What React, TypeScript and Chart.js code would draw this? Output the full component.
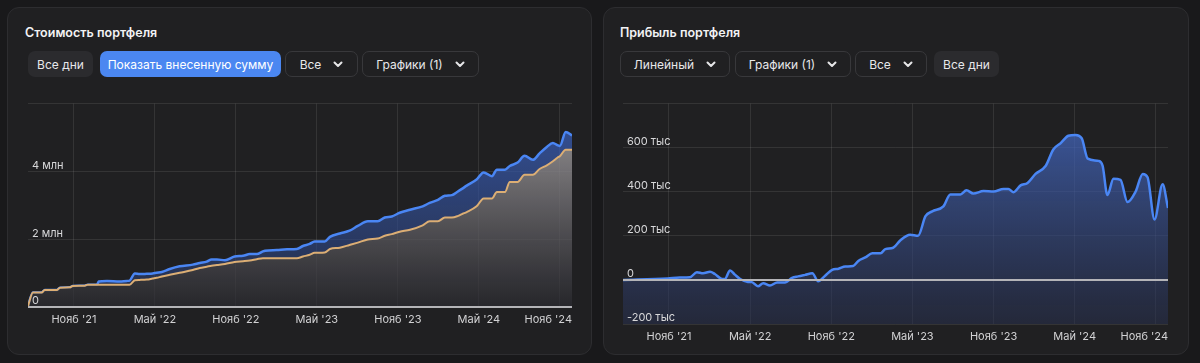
import React, { useEffect, useRef } from 'react';
import { Chart, registerables } from 'chart.js';

Chart.register(...registerables);
Chart.defaults.font.family = 'Inter, "Noto Sans", sans-serif';

// ---------- data ----------
const xTickMonths = [10, 16, 22, 28, 34, 40, 46];
const xTickLabels = ["Нояб '21", "Май '22", "Нояб '22", "Май '23", "Нояб '23", "Май '24", "Нояб '24"];

const valueTickValues = [0, 2, 4, 6];
const valueTickLabels = ['0', '2 млн', '4 млн', ''];
const profitTickValues = [-200, 0, 200, 400, 600, 800];
const profitTickLabels = ['-200 тыс', '0', '200 тыс', '400 тыс', '600 тыс', ''];

const valueDates = [
  '2021-07-19', '2021-07-31', '2021-08-20', '2021-08-27', '2021-09-23', '2021-09-30', '2021-10-23', '2021-10-29',
  '2021-11-25', '2021-12-02', '2021-12-23', '2021-12-27', '2022-01-15', '2022-02-12', '2022-02-27', '2022-03-05',
  '2022-03-17', '2022-03-28', '2022-04-13', '2022-04-26', '2022-05-05', '2022-05-17', '2022-06-04', '2022-06-26',
  '2022-07-26', '2022-08-11', '2022-08-27', '2022-09-07', '2022-09-19', '2022-10-07', '2022-10-29', '2022-11-17',
  '2022-12-02', '2022-12-18', '2023-01-01', '2023-01-06', '2023-02-02', '2023-02-23', '2023-03-17', '2023-03-31',
  '2023-04-15', '2023-04-26', '2023-05-19', '2023-05-31', '2023-06-22', '2023-07-14', '2023-08-02', '2023-08-25',
  '2023-09-16', '2023-10-02', '2023-10-18', '2023-11-05', '2023-11-28', '2023-12-27', '2024-01-12', '2024-01-31',
  '2024-02-15', '2024-03-01', '2024-03-14', '2024-03-26', '2024-04-04', '2024-04-26', '2024-05-12', '2024-05-31',
  '2024-06-11', '2024-06-29', '2024-07-10', '2024-07-28', '2024-08-13', '2024-09-01', '2024-09-16', '2024-10-02',
  '2024-10-16', '2024-10-27', '2024-11-01', '2024-11-14', '2024-11-28',
];
// contributed amount, млн
const investedMln = [
  0, 0.43, 0.43, 0.50, 0.50, 0.57, 0.58, 0.62,
  0.63, 0.66, 0.66, 0.66, 0.66, 0.66, 0.66, 0.66,
  0.79, 0.80, 0.81, 0.84, 0.86, 0.90, 0.95, 1.01,
  1.09, 1.15, 1.19, 1.22, 1.24, 1.27, 1.33, 1.35,
  1.37, 1.41, 1.44, 1.44, 1.44, 1.44, 1.44, 1.49,
  1.54, 1.60, 1.61, 1.71, 1.75, 1.83, 1.90, 1.99,
  2.02, 2.10, 2.15, 2.22, 2.28, 2.41, 2.53, 2.53,
  2.64, 2.64, 2.68, 2.75, 2.80, 2.97, 3.20, 3.20,
  3.39, 3.39, 3.69, 3.69, 3.90, 3.90, 4.07, 4.18,
  4.30, 4.41, 4.45, 4.64, 4.64,
];
// portfolio value, млн
const portfolioMln = [
  0, 0.43, 0.43, 0.50, 0.50, 0.57, 0.58, 0.62,
  0.63, 0.66, 0.66, 0.75, 0.77, 0.75, 0.77, 0.78,
  0.99, 0.97, 0.98, 0.99, 1.01, 1.03, 1.12, 1.20,
  1.25, 1.30, 1.34, 1.40, 1.40, 1.38, 1.49, 1.51,
  1.56, 1.56, 1.64, 1.66, 1.68, 1.70, 1.71, 1.80,
  1.86, 1.93, 1.93, 2.07, 2.17, 2.25, 2.39, 2.53,
  2.53, 2.64, 2.67, 2.78, 2.87, 2.97, 3.07, 3.16,
  3.28, 3.30, 3.40, 3.50, 3.58, 3.76, 3.97, 3.86,
  4.05, 4.05, 4.16, 4.26, 4.46, 4.34, 4.53, 4.72,
  4.84, 4.77, 4.75, 5.16, 5.06,
];

const profitDates = [
  '2021-07-19', '2021-10-29', '2021-11-25', '2021-12-18', '2022-01-03', '2022-01-17', '2022-02-02', '2022-02-12',
  '2022-02-27', '2022-03-05', '2022-03-17', '2022-03-28', '2022-04-09', '2022-04-26', '2022-05-05', '2022-05-19',
  '2022-05-31', '2022-06-15', '2022-07-01', '2022-07-19', '2022-08-04', '2022-08-18', '2022-09-03', '2022-09-19',
  '2022-10-02', '2022-10-18', '2022-11-03', '2022-11-17', '2022-12-02', '2022-12-20', '2023-01-01', '2023-01-17',
  '2023-02-02', '2023-02-19', '2023-03-01', '2023-03-19', '2023-04-04', '2023-04-26', '2023-05-14', '2023-05-31',
  '2023-06-15', '2023-07-10', '2023-07-26', '2023-08-18', '2023-09-01', '2023-09-16', '2023-10-09', '2023-11-01',
  '2023-11-23', '2023-12-04', '2023-12-16', '2024-01-01', '2024-01-17', '2024-02-04', '2024-02-26', '2024-03-14',
  '2024-03-31', '2024-04-17', '2024-05-03', '2024-05-17', '2024-05-31', '2024-06-24', '2024-07-03', '2024-07-14',
  '2024-07-28', '2024-08-13', '2024-08-29', '2024-09-16', '2024-10-02', '2024-10-13', '2024-10-29', '2024-11-16',
  '2024-11-28',
];
// profit, тыс
const profitK = [
  0, 7, 11, 12, 35, 30, 37, 27,
  4, 4, 43, 24, 4, -9, -10, -29,
  -15, -25, -12, -12, 9, 16, 23, 30,
  -6, 19, 46, 51, 61, 63, 86, 102,
  121, 121, 140, 146, 179, 205, 200, 289,
  311, 334, 388, 388, 407, 392, 403, 401,
  413, 413, 398, 429, 440, 481, 518, 592,
  621, 654, 658, 643, 550, 540, 518, 385,
  459, 454, 353, 400, 481, 466, 274, 434,
  326,
];

const X_MIN = 6.6;
const X_MAX = 46.9;

// ---------- helpers ----------
function monthPos(d: string): number {
  const [y, m, day] = d.split('-').map(Number);
  const dim = new Date(y, m, 0).getDate();
  return (y - 2021) * 12 + (m - 1) + (day - 1) / dim;
}

function vGradient(top: string, bottom: string) {
  return (ctx: any) => {
    const { chart } = ctx;
    const area = chart.chartArea;
    if (!area) return 'transparent';
    const g = chart.ctx.createLinearGradient(0, area.top, 0, area.bottom);
    g.addColorStop(0, top);
    g.addColorStop(1, bottom);
    return g;
  };
}

const zeroLinePlugin = {
  id: 'zeroLine',
  afterDatasetsDraw(chart: any) {
    const y = chart.scales.y.getPixelForValue(0);
    const { left, right } = chart.chartArea;
    const c = chart.ctx;
    c.save();
    c.strokeStyle = '#b4b4b8';
    c.lineWidth = 2;
    c.beginPath();
    c.moveTo(left, y);
    c.lineTo(right, y);
    c.stroke();
    c.restore();
  },
};

// x labels: centred under their grid line, but kept inside the plot on the right
const xLabelPlugin = {
  id: 'xLabels',
  afterDraw(chart: any) {
    const sx = chart.scales.x;
    const area = chart.chartArea;
    const c = chart.ctx;
    c.save();
    c.font = '11px Inter, "Noto Sans", sans-serif';
    c.fillStyle = '#d2d2d4';
    c.textBaseline = 'middle';
    c.textAlign = 'left';
    xTickMonths.forEach((m, i) => {
      const px = sx.getPixelForValue(m);
      const w = c.measureText(xTickLabels[i]).width;
      let left = px - w / 2;
      if (left + w > area.right) left = area.right - w;
      c.fillText(xTickLabels[i], left, area.bottom + 13);
    });
    c.restore();
  },
};

function xScale() {
  return {
    type: 'linear' as const,
    min: X_MIN,
    max: X_MAX,
    border: { display: false },
    grid: { color: 'rgba(255,255,255,0.09)', drawTicks: false, lineWidth: 1 },
    afterBuildTicks: (axis: any) => {
      axis.ticks = xTickMonths.map((v) => ({ value: v }));
    },
    afterFit: (axis: any) => {
      axis.height = 20;
      axis.paddingLeft = 0;
      axis.paddingRight = 0;
    },
    ticks: { display: false, autoSkip: false, maxRotation: 0 },
  };
}

function yScale(min: number, max: number, values: number[], labels: string[]) {
  return {
    type: 'linear' as const,
    min,
    max,
    border: { display: false },
    grid: { color: 'rgba(255,255,255,0.09)', drawTicks: false, lineWidth: 1 },
    afterBuildTicks: (axis: any) => {
      axis.ticks = values.map((v) => ({ value: v }));
    },
    afterFit: (axis: any) => {
      axis.width = 0;
    },
    ticks: {
      mirror: true,
      padding: 4,
      labelOffset: -6,
      color: '#d8d8da',
      font: { size: 11 },
      z: 2,
      callback: (v: any) => {
        const i = values.indexOf(Number(v));
        return i >= 0 ? labels[i] : '';
      },
    },
  };
}

// ---------- charts ----------
function ValueChart() {
  const ref = useRef<HTMLCanvasElement>(null);
  useEffect(() => {
    const xs = valueDates.map(monthPos);
    const chart = new Chart(ref.current as HTMLCanvasElement, {
      type: 'line',
      data: {
        datasets: [
          {
            label: 'Внесено',
            data: xs.map((x, i) => ({ x, y: investedMln[i] })),
            borderColor: '#dcae74',
            borderWidth: 2,
            pointRadius: 0,
            cubicInterpolationMode: 'monotone',
            fill: 'origin',
            backgroundColor: vGradient('rgba(178,174,176,0.88)', 'rgba(42,42,48,0.7)'),
          },
          {
            label: 'Стоимость',
            data: xs.map((x, i) => ({ x, y: portfolioMln[i] })),
            borderColor: '#4a86f4',
            borderWidth: 2.5,
            pointRadius: 0,
            cubicInterpolationMode: 'monotone',
            fill: { target: 0 },
            backgroundColor: vGradient('rgba(62,104,205,0.72)', 'rgba(40,56,100,0.6)'),
          },
        ],
      },
      options: {
        responsive: false,
        animation: false,
        maintainAspectRatio: false,
        layout: { padding: { top: 4, left: 0, right: 0, bottom: 0 } },
        plugins: { legend: { display: false }, tooltip: { enabled: false } },
        scales: {
          x: xScale() as any,
          y: yScale(0, 6, valueTickValues, valueTickLabels) as any,
        },
      },
      plugins: [zeroLinePlugin, xLabelPlugin],
    });
    return () => chart.destroy();
  }, []);
  return (
    <canvas
      ref={ref}
      width={544}
      height={234}
      style={{ position: 'absolute', left: 28, top: 93, width: 544, height: 234 }}
    />
  );
}

function ProfitChart() {
  const ref = useRef<HTMLCanvasElement>(null);
  useEffect(() => {
    const xs = profitDates.map(monthPos);
    const chart = new Chart(ref.current as HTMLCanvasElement, {
      type: 'line',
      data: {
        datasets: [
          {
            label: 'Прибыль',
            data: xs.map((x, i) => ({ x, y: profitK[i] })),
            borderColor: '#4a86f4',
            borderWidth: 2.5,
            pointRadius: 0,
            cubicInterpolationMode: 'monotone',
            fill: 'start',
            backgroundColor: vGradient('rgba(72,112,210,0.75)', 'rgba(40,48,78,0.55)'),
          },
        ],
      },
      options: {
        responsive: false,
        animation: false,
        maintainAspectRatio: false,
        layout: { padding: { top: 4, left: 0, right: 0, bottom: 0 } },
        plugins: { legend: { display: false }, tooltip: { enabled: false } },
        scales: {
          x: xScale() as any,
          y: yScale(-200, 800, profitTickValues, profitTickLabels) as any,
        },
      },
      plugins: [zeroLinePlugin, xLabelPlugin],
    });
    return () => chart.destroy();
  }, []);
  return (
    <canvas
      ref={ref}
      width={545}
      height={251}
      style={{ position: 'absolute', left: 623, top: 93, width: 545, height: 251 }}
    />
  );
}

// ---------- UI ----------
function Chevron() {
  return (
    <svg width="10" height="7" viewBox="0 0 10 7" style={{ display: 'block' }}>
      <polyline points="1.5,1.5 5,5 8.5,1.5" fill="none" stroke="#e6e6e8" strokeWidth="2" strokeLinecap="round" strokeLinejoin="round" />
    </svg>
  );
}

type BtnProps = { left: number; width: number; label: string; kind: 'fill' | 'blue' | 'outline'; chevron?: boolean };

function Btn({ left, width, label, kind, chevron }: BtnProps) {
  const bg = kind === 'blue' ? '#4b87f1' : kind === 'fill' ? '#2b2b2e' : 'transparent';
  return (
    <div
      style={{
        position: 'absolute',
        left,
        top: 51,
        width,
        height: 26,
        boxSizing: 'border-box',
        borderRadius: 7,
        background: bg,
        border: kind === 'outline' ? '1px solid #38383b' : 'none',
        color: kind === 'blue' ? '#ffffff' : '#e8e8ea',
        fontSize: 12,
        display: 'flex',
        alignItems: 'center',
        justifyContent: 'center',
        gap: chevron ? 12 : 0,
        whiteSpace: 'nowrap',
      }}
    >
      <span>{label}</span>
      {chevron ? <Chevron /> : null}
    </div>
  );
}

export default function App() {
  const panel: React.CSSProperties = {
    position: 'absolute',
    top: 7,
    height: 348,
    boxSizing: 'border-box',
    background: '#202022',
    border: '1px solid #2d2d30',
    borderRadius: 12,
  };
  const title: React.CSSProperties = {
    position: 'absolute',
    top: 25,
    fontSize: 12.5,
    fontWeight: 600,
    color: '#f2f2f4',
    lineHeight: '16px',
  };
  return (
    <div
      style={{
        position: 'absolute',
        left: 0,
        top: 0,
        width: 1200,
        height: 363,
        overflow: 'hidden',
        background: '#19191b',
        fontFamily: 'Inter, "Noto Sans", sans-serif',
      }}
    >
      <div style={{ ...panel, left: 7, width: 585 }} />
      <div style={{ ...panel, left: 603, width: 586 }} />

      <div style={{ ...title, left: 25 }}>Стоимость портфеля</div>
      <Btn left={28} width={65} label="Все дни" kind="fill" />
      <Btn left={100} width={181} label="Показать внесенную сумму" kind="blue" />
      <Btn left={285} width={73} label="Все" kind="outline" chevron />
      <Btn left={362} width={117} label="Графики (1)" kind="outline" chevron />

      <div style={{ ...title, left: 620 }}>Прибыль портфеля</div>
      <Btn left={620} width={110} label="Линейный" kind="outline" chevron />
      <Btn left={735} width={116} label="Графики (1)" kind="outline" chevron />
      <Btn left={855} width={72} label="Все" kind="outline" chevron />
      <Btn left={934} width={65} label="Все дни" kind="fill" />

      <ValueChart />
      <ProfitChart />
    </div>
  );
}
